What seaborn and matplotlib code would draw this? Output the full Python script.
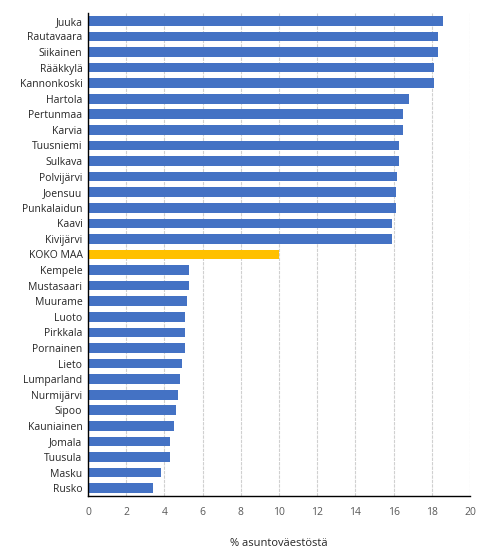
import matplotlib
matplotlib.use('Agg')
import matplotlib.pyplot as plt
import seaborn as sns
import pandas as pd

# =============================================================================
# DATA
# =============================================================================

municipalities = [
    'Juuka', 'Rautavaara', 'Siikainen', 'Rääkkylä', 'Kannonkoski', 'Hartola',
    'Pertunmaa', 'Karvia', 'Tuusniemi', 'Sulkava', 'Polvijärvi', 'Joensuu',
    'Punkalaidun', 'Kaavi', 'Kivijärvi', 'KOKO MAA', 'Kempele', 'Mustasaari',
    'Muurame', 'Luoto', 'Pirkkala', 'Pornainen', 'Lieto', 'Lumparland',
    'Nurmijärvi', 'Sipoo', 'Kauniainen', 'Jomala', 'Tuusula', 'Masku', 'Rusko',
]
share_pct = [
    18.6, 18.3, 18.3, 18.1, 18.1, 16.8,
    16.5, 16.5, 16.3, 16.3, 16.2, 16.1,
    16.1, 15.9, 15.9, 10.0, 5.3, 5.3,
    5.2, 5.1, 5.1, 5.1, 4.9, 4.8,
    4.7, 4.6, 4.5, 4.3, 4.3, 3.8, 3.4,
]
highlight = 'KOKO MAA'
x_ticks = [0, 2, 4, 6, 8, 10, 12, 14, 16, 18, 20]
x_label = '% asuntoväestöstä'

df = pd.DataFrame({'kunta': municipalities, 'osuus': share_pct})
palette = {k: ('#FFC000' if k == highlight else '#4472C4') for k in municipalities}

# =============================================================================
# PLOT
# =============================================================================

sns.set_style('white')
plt.rcParams['font.family'] = ['Open Sans', 'DejaVu Sans']

fig = plt.figure(figsize=(4.91, 5.56), dpi=100)
ax = fig.add_axes([88 / 491, 60 / 556, (470 - 88) / 491, (543 - 60) / 556])

sns.barplot(data=df, x='osuus', y='kunta', hue='kunta', palette=palette,
            order=municipalities, width=0.62, saturation=1, linewidth=0,
            legend=False, ax=ax)

ax.set_xlim(0, 20)
ax.set_xticks(x_ticks)
ax.set_xticklabels([str(t) for t in x_ticks], fontsize=7.5, color='#595959')
ax.set_xlabel(x_label, fontsize=8, color='#262626', labelpad=14)
ax.set_ylabel('')
ax.tick_params(axis='y', labelsize=7.5, colors='#262626', length=0, pad=4)
ax.tick_params(axis='x', length=0, pad=8)

ax.grid(axis='x', color='#d0d0d0', linewidth=0.8, linestyle=(0, (3, 1)))
ax.set_axisbelow(True)
for side in ['top', 'right']:
    ax.spines[side].set_visible(False)
for side in ['left', 'bottom']:
    ax.spines[side].set_color('black')
    ax.spines[side].set_linewidth(1.0)

fig.savefig('out.png', dpi=100)
plt.close(fig)
